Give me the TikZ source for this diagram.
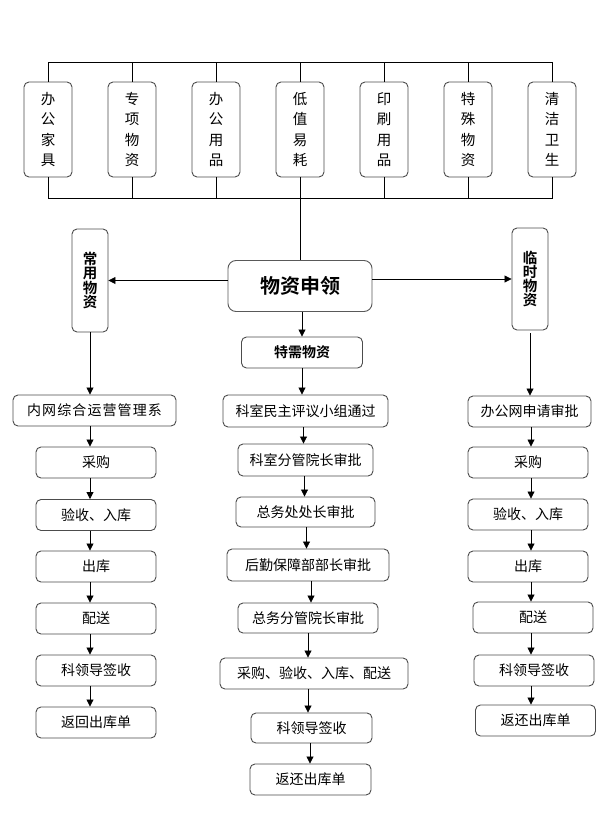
\documentclass[tikz,border=0pt]{standalone}
\usepackage{fontspec}
\setmainfont{Noto Sans CJK SC}
\newfontfamily\cjkb{Noto Sans CJK SC Bold}
\usetikzlibrary{arrows.meta,calc}
\tikzset{
  box/.style={draw=black!70, line width=0.9pt, rounded corners=5pt, inner sep=0pt, fill=white,
              font=\fontsize{14}{16}\selectfont, align=center},
  vbox/.style={box, minimum width=48pt, minimum height=95pt, font=\fontsize{14.5}{20.5}\selectfont},
  bvbox/.style={box, minimum width=36pt, font=\cjkb\fontsize{14.5}{14.2}\selectfont},
  ln/.style={line width=0.8pt, black},
  arr/.style={ln, -{Triangle[length=7pt,width=7pt]}},
}
\begin{document}
\begin{tikzpicture}[x=1pt,y=-1pt]
\useasboundingbox (0,0) rectangle (604,835);
% top boxes
\node[vbox] (A1) at (48,129.5)  {办\\公\\家\\具};
\node[vbox] (A2) at (132,129.5) {专\\项\\物\\资};
\node[vbox] (A3) at (216,129.5) {办\\公\\用\\品};
\node[vbox] (A4) at (300,129.5) {低\\值\\易\\耗};
\node[vbox] (A5) at (384,129.5) {印\\刷\\用\\品};
\node[vbox] (A6) at (468,129.5) {特\\殊\\物\\资};
\node[vbox] (A7) at (552,129.5) {清\\洁\\卫\\生};
\coordinate (topline) at (300,62);
\coordinate (botline) at (300,198);
\draw[ln] (A1.north) |- (A7.north |- topline) -- (A7.north);
\foreach \i in {2,...,6} \draw[ln] (A\i.north) -- (A\i.north |- topline);
\draw[ln] (A1.south) |- (A7.south |- botline) -- (A7.south);
\foreach \i in {2,3,5,6} \draw[ln] (A\i.south) -- (A\i.south |- botline);
% central
\node[box, minimum width=144pt, minimum height=51pt, rounded corners=8pt, draw=black!65,
      font=\cjkb\fontsize{20}{22}\selectfont] (M) at (300,286) {物资申领};
\draw[ln] (A4.south) -- (M.north);
\node[bvbox, minimum height=103pt] (C1) at (90,280.5) {常\\用\\物\\资};
\node[bvbox, minimum height=102pt] (C2) at (530,279) {临\\时\\物\\资};
\draw[arr] (M.west |- C1.east) -- (C1.east);
\draw[arr] (M.east |- C2.west) -- (C2.west);
\node[box, minimum width=121pt, minimum height=31pt, font=\cjkb\fontsize{14}{16}\selectfont] (T) at (302,352.5) {特需物资};
\draw[arr] (M.south -| T.north) -- (T.north);
% left column
\node[box, minimum width=163pt, minimum height=31pt] (L1) at (94.5,410.5) {\addfontfeature{LetterSpace=8}内网综合运营管理系};
\node[box, minimum width=120pt, minimum height=31pt] (L2) at (96,462.5) {采购};
\node[box, minimum width=120pt, minimum height=31pt] (L3) at (96,515) {验收、入库};
\node[box, minimum width=120pt, minimum height=31pt] (L4) at (96,566.5) {出库};
\node[box, minimum width=120pt, minimum height=31pt] (L5) at (96,618.5) {配送};
\node[box, minimum width=120pt, minimum height=31pt] (L6) at (96,670.5) {科领导签收};
\node[box, minimum width=120pt, minimum height=31pt] (L7) at (96,722.5) {返回出库单};
\draw[arr] (C1.south) -- (C1.south |- L1.north);
\draw[arr] (C1.south |- L1.south) -- (C1.south |- L2.north);
\draw[arr] (C1.south |- L2.south) -- (C1.south |- L3.north);
\draw[arr] (C1.south |- L3.south) -- (C1.south |- L4.north);
\draw[arr] (C1.south |- L4.south) -- (C1.south |- L5.north);
\draw[arr] (C1.south |- L5.south) -- (C1.south |- L6.north);
\draw[arr] (C1.south |- L6.south) -- (C1.south |- L7.north);
% middle column
\node[box, minimum width=165pt, minimum height=32pt] (M1) at (305.5,411) {科室民主评议小组通过};
\node[box, minimum width=135pt, minimum height=32pt] (M2) at (305.5,460) {科室分管院长审批};
\node[box, minimum width=139pt, minimum height=30pt] (M3) at (305.5,512) {总务处处长审批};
\node[box, minimum width=162pt, minimum height=32pt] (M4) at (308,565) {后勤保障部部长审批};
\node[box, minimum width=140pt, minimum height=30pt] (M5) at (308,618) {总务分管院长审批};
\node[box, minimum width=188pt, minimum height=31pt] (M6) at (314,673.5) {采购、验收、入库、配送};
\node[box, minimum width=121pt, minimum height=30pt] (M7) at (311.5,728) {科领导签收};
\node[box, minimum width=121pt, minimum height=31pt] (M8) at (310.5,779.5) {返还出库单};
\draw[arr] (T.south) -- (T.south |- M1.north);
\draw[arr] ([xshift=-2pt]M1.south) -- ([xshift=-2pt]M1.south |- M2.north);
\draw[arr] ([xshift=-1pt]M2.south) -- ([xshift=-1pt]M2.south |- M3.north);
\draw[arr] ([xshift=1pt]M3.south) -- ([xshift=1pt]M3.south |- M4.north);
\draw[arr] ([xshift=3pt]M4.south) -- ([xshift=3pt]M4.south |- M5.north);
\draw[arr] (M5.south) -- (M5.south |- M6.north);
\draw[arr] ([xshift=-6pt]M6.south) -- ([xshift=-6pt]M6.south |- M7.north);
\draw[arr] ([xshift=-1.5pt]M7.south) -- ([xshift=-1.5pt]M7.south |- M8.north);
% right column
\node[box, minimum width=123pt, minimum height=31pt] (R1) at (529.5,411.5) {办公网申请审批};
\node[box, minimum width=120pt, minimum height=31pt] (R2) at (528,462.5) {采购};
\node[box, minimum width=120pt, minimum height=31pt] (R3) at (528,514.5) {验收、入库};
\node[box, minimum width=120pt, minimum height=31pt] (R4) at (528,566.5) {出库};
\node[box, minimum width=120pt, minimum height=31pt] (R5) at (533,617.5) {配送};
\node[box, minimum width=120pt, minimum height=31pt] (R6) at (534,670.5) {科领导签收};
\node[box, minimum width=120pt, minimum height=31pt] (R7) at (535.5,720.5) {返还出库单};
\coordinate (rx) at (531,0);
\draw[arr] ([yshift=-3pt]C2.south) -- (C2.south |- R1.north);
\draw[arr] (rx |- R1.south) -- (rx |- R2.north);
\draw[arr] (rx |- R2.south) -- (rx |- R3.north);
\draw[arr] (rx |- R3.south) -- (rx |- R4.north);
\draw[arr] (rx |- R4.south) -- (rx |- R5.north);
\draw[arr] (rx |- R5.south) -- (rx |- R6.north);
\draw[arr] (rx |- R6.south) -- (rx |- R7.north);
\end{tikzpicture}
\end{document}
